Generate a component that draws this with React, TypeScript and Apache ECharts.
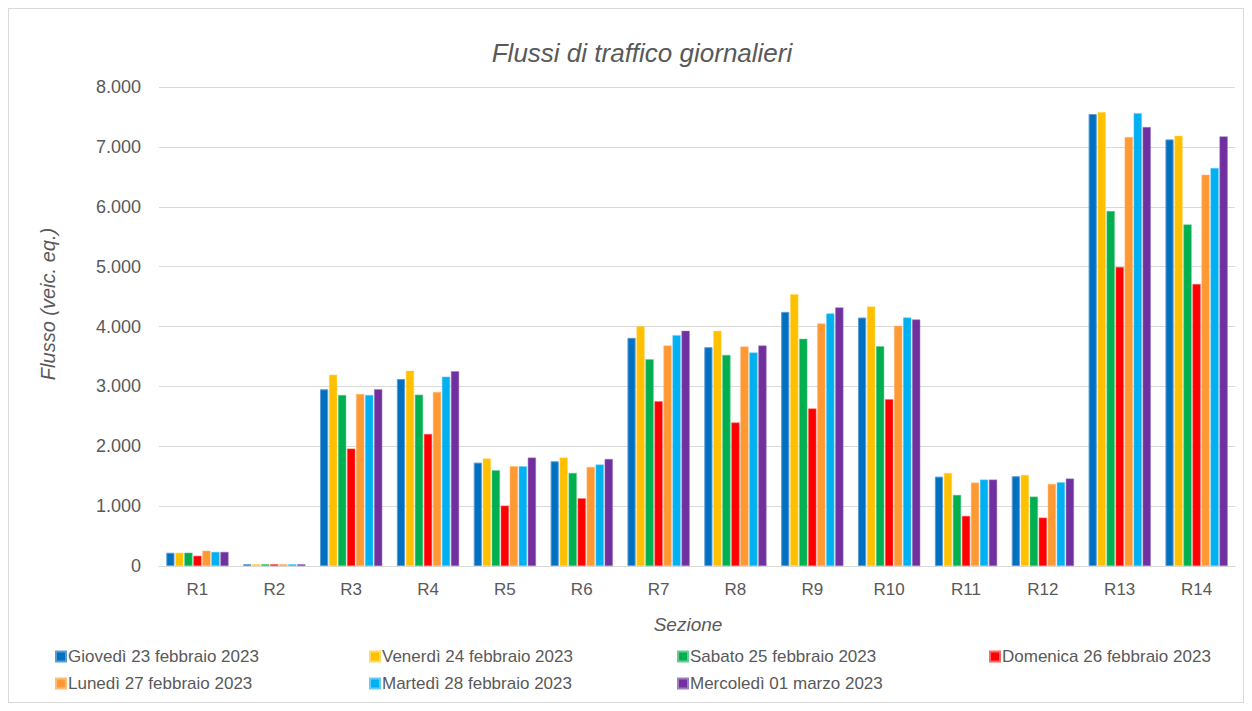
import React, { useEffect, useRef } from "react";
import * as echarts from "echarts";

const categories = ["R1", "R2", "R3", "R4", "R5", "R6", "R7", "R8", "R9", "R10", "R11", "R12", "R13", "R14"];

const seriesNames = [
  "Giovedì 23 febbraio 2023",
  "Venerdì 24 febbraio 2023",
  "Sabato 25 febbraio 2023",
  "Domenica 26 febbraio 2023",
  "Lunedì 27 febbraio 2023",
  "Martedì 28 febbraio 2023",
  "Mercoledì 01 marzo 2023",
];

const giovedi = [222, 30, 2951, 3123, 1727, 1749, 3811, 3655, 4245, 4150, 1493, 1499, 7549, 7125];
const venerdi = [222, 30, 3196, 3262, 1794, 1811, 4006, 3928, 4540, 4334, 1554, 1521, 7582, 7187];
const sabato = [222, 30, 2856, 2862, 1599, 1554, 3454, 3526, 3794, 3671, 1187, 1159, 5928, 5705];
const domenica = [170, 30, 1960, 2205, 1008, 1131, 2752, 2396, 2630, 2786, 836, 808, 4992, 4708];
const lunedi = [255, 30, 2873, 2906, 1666, 1655, 3682, 3666, 4050, 4011, 1393, 1370, 7164, 6535];
const martedi = [235, 30, 2856, 3162, 1666, 1694, 3855, 3565, 4217, 4150, 1443, 1398, 7560, 6646];
const mercoledi = [235, 30, 2951, 3251, 1811, 1788, 3928, 3682, 4318, 4117, 1443, 1460, 7331, 7175];

const seriesValues = [giovedi, venerdi, sabato, domenica, lunedi, martedi, mercoledi];
const colors = ["#0070C0", "#FFC000", "#00B050", "#FF0000", "#FF9933", "#00B0F0", "#7030A0"];
const borderColors = ["#5B9BD5", "#FFD966", "#66CC8F", "#FF6666", "#FFBB77", "#66CCF5", "#A07CC0"];

const yTicks = [0, 1000, 2000, 3000, 4000, 5000, 6000, 7000, 8000];

const FONT = "'Liberation Sans', Arial, Helvetica, sans-serif";
const TXT = "#595959";

function fmt(v: number): string {
  return String(v).replace(/\B(?=(\d{3})+(?!\d))/g, ".");
}

// legend layout positions (columns/rows)
const legendPos = [
  [46, 648], [360, 648], [668, 648], [980, 648],
  [46, 675], [360, 675], [668, 675],
];

export default function App() {
  const ref = useRef<HTMLDivElement>(null);
  useEffect(() => {
    if (!ref.current) return;
    const chart = echarts.init(ref.current, undefined, { renderer: "svg" });
    chart.setOption({
      animation: false,
      textStyle: { fontFamily: FONT },
      grid: { left: 150, right: 8, top: 78, bottom: 136, containLabel: false },
      xAxis: {
        type: "category",
        data: categories,
        axisTick: { show: false },
        axisLine: { lineStyle: { color: "#D9D9D9", width: 1 } },
        axisLabel: { color: TXT, fontSize: 17, margin: 15, fontFamily: FONT },
      },
      yAxis: {
        type: "value",
        min: yTicks[0],
        max: yTicks[yTicks.length - 1],
        interval: 1000,
        axisLine: { show: false },
        axisTick: { show: false },
        splitLine: { lineStyle: { color: "#D9D9D9", width: 1 } },
        axisLabel: { color: TXT, fontSize: 18, margin: 18, fontFamily: FONT, formatter: (v: number) => fmt(v) },
      },
      legend: seriesNames.map((n, i) => ({
        data: [n],
        left: legendPos[i][0],
        top: legendPos[i][1] - 9,
        itemWidth: 10,
        itemHeight: 10,
        itemGap: 0,
        padding: 0,
        icon: "rect",
        textStyle: { color: TXT, fontSize: 17, fontFamily: FONT, padding: [0, 0, 0, -3] },
      })),
      series: seriesNames.map((n, i) => ({
        name: n,
        type: "bar",
        data: seriesValues[i],
        barGap: "10%",
        barCategoryGap: "19%",
        itemStyle: { color: colors[i], borderColor: borderColors[i], borderWidth: i === 0 ? 1 : 0.5 },
      })),
      graphic: [
        {
          type: "text",
          x: 633,
          y: 44,
          style: {
            text: "Flussi di traffico giornalieri",
            fill: TXT,
            fontSize: 26,
            fontStyle: "italic",
            fontFamily: FONT,
            align: "center",
            verticalAlign: "middle",
          },
        },
        {
          type: "text",
          x: 39,
          y: 295,
          rotation: Math.PI / 2,
          style: {
            text: "Flusso (veic. eq.)",
            fill: TXT,
            fontSize: 20,
            fontStyle: "italic",
            fontFamily: FONT,
            align: "center",
            verticalAlign: "middle",
          },
        },
        {
          type: "text",
          x: 679,
          y: 615,
          style: {
            text: "Sezione",
            fill: TXT,
            fontSize: 19,
            fontStyle: "italic",
            fontFamily: FONT,
            align: "center",
            verticalAlign: "middle",
          },
        },
      ],
    });
    return () => chart.dispose();
  }, []);
  return (
    <div style={{ width: 1234, height: 693, border: "1px solid #D9D9D9", background: "#fff" }}>
      <div ref={ref} style={{ width: 1234, height: 693 }} />
    </div>
  );
}
